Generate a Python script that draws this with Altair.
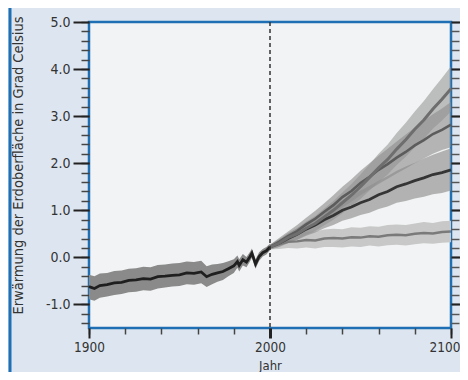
import altair as alt
import pandas as pd

# ---------------- data ----------------
hist_years = [1900, 1903, 1906, 1910, 1914, 1918, 1922, 1926, 1930, 1934, 1938, 1942,
              1946, 1950, 1954, 1958, 1962, 1965, 1968, 1971, 1974, 1977, 1980, 1982,
              1983, 1985, 1987, 1989, 1990, 1992, 1994, 1996, 1998, 2000]
hist_mean = [-0.62, -0.66, -0.60, -0.58, -0.54, -0.53, -0.49, -0.48, -0.45, -0.46, -0.41, -0.40,
             -0.38, -0.37, -0.33, -0.34, -0.31, -0.41, -0.36, -0.33, -0.30, -0.24, -0.18, -0.09,
             -0.17, -0.05, -0.10, 0.02, 0.09, -0.14, 0.02, 0.10, 0.14, 0.22]
hist_lo = [-0.89, -0.92, -0.86, -0.83, -0.80, -0.78, -0.74, -0.73, -0.70, -0.71, -0.66, -0.64,
           -0.62, -0.61, -0.57, -0.58, -0.55, -0.63, -0.57, -0.52, -0.48, -0.40, -0.33, -0.22,
           -0.30, -0.17, -0.21, -0.08, -0.01, -0.24, -0.07, 0.02, 0.06, 0.15]
hist_hi = [-0.37, -0.40, -0.34, -0.33, -0.29, -0.28, -0.24, -0.23, -0.20, -0.21, -0.16, -0.15,
           -0.13, -0.12, -0.09, -0.10, -0.07, -0.19, -0.15, -0.14, -0.12, -0.08, -0.04, 0.04,
           -0.04, 0.07, 0.01, 0.12, 0.19, -0.04, 0.11, 0.18, 0.22, 0.29]

proj_years = [2000, 2005, 2010, 2015, 2020, 2025, 2030, 2035, 2040, 2045, 2050,
              2055, 2060, 2065, 2070, 2075, 2080, 2085, 2090, 2095, 2100]

commit_mean = [0.22, 0.28, 0.33, 0.34, 0.37, 0.36, 0.40, 0.41, 0.40, 0.43, 0.42,
               0.45, 0.44, 0.47, 0.48, 0.47, 0.50, 0.52, 0.51, 0.54, 0.55]
commit_lo = [0.17, 0.18, 0.20, 0.19, 0.21, 0.19, 0.22, 0.22, 0.21, 0.23, 0.22,
             0.25, 0.23, 0.26, 0.27, 0.25, 0.28, 0.30, 0.29, 0.31, 0.32]
commit_hi = [0.27, 0.38, 0.46, 0.50, 0.55, 0.55, 0.59, 0.61, 0.60, 0.64, 0.63,
             0.66, 0.65, 0.69, 0.70, 0.69, 0.72, 0.75, 0.73, 0.77, 0.78]

b1_mean = [0.22, 0.30, 0.40, 0.49, 0.60, 0.69, 0.80, 0.89, 1.00, 1.07, 1.16,
           1.23, 1.33, 1.40, 1.50, 1.56, 1.63, 1.69, 1.76, 1.80, 1.86]
b1_lo = [0.17, 0.22, 0.30, 0.37, 0.46, 0.53, 0.62, 0.69, 0.78, 0.83, 0.90,
         0.95, 1.03, 1.08, 1.16, 1.20, 1.25, 1.29, 1.34, 1.37, 1.42]
b1_hi = [0.27, 0.38, 0.50, 0.62, 0.74, 0.86, 0.98, 1.10, 1.22, 1.32, 1.42,
         1.52, 1.63, 1.73, 1.84, 1.93, 2.01, 2.10, 2.18, 2.25, 2.32]

a1b_mean = [0.22, 0.33, 0.45, 0.56, 0.70, 0.82, 0.97, 1.11, 1.28, 1.41, 1.58,
            1.71, 1.86, 1.98, 2.12, 2.24, 2.38, 2.49, 2.62, 2.71, 2.82]
a1b_lo = [0.17, 0.25, 0.35, 0.45, 0.56, 0.67, 0.79, 0.92, 1.06, 1.18, 1.32,
          1.44, 1.56, 1.67, 1.78, 1.89, 2.00, 2.10, 2.20, 2.28, 2.34]
a1b_hi = [0.27, 0.41, 0.55, 0.69, 0.84, 0.99, 1.15, 1.32, 1.50, 1.66, 1.84,
          2.00, 2.16, 2.31, 2.46, 2.61, 2.76, 2.90, 3.04, 3.16, 3.30]

a2_mean = [0.22, 0.30, 0.42, 0.50, 0.62, 0.72, 0.86, 1.00, 1.16, 1.32, 1.50,
           1.70, 1.90, 2.08, 2.30, 2.50, 2.72, 2.92, 3.15, 3.36, 3.58]
a2_lo = [0.17, 0.22, 0.32, 0.38, 0.48, 0.56, 0.68, 0.80, 0.94, 1.08, 1.24,
         1.42, 1.60, 1.76, 1.96, 2.14, 2.34, 2.52, 2.73, 2.91, 3.10]
a2_hi = [0.27, 0.38, 0.52, 0.62, 0.76, 0.88, 1.04, 1.20, 1.38, 1.56, 1.76,
         1.98, 2.20, 2.40, 2.64, 2.86, 3.10, 3.32, 3.57, 3.81, 4.06]

x_major = [1900, 2000, 2100]
x_minor = [1900, 1920, 1940, 1960, 1980, 2000, 2020, 2040, 2060, 2080, 2100]
y_major = [-1.0, 0.0, 1.0, 2.0, 3.0, 4.0, 5.0]
y_minor = [-1.4, -1.2, -1.0, -0.8, -0.6, -0.4, -0.2, 0.0, 0.2, 0.4, 0.6, 0.8,
           1.0, 1.2, 1.4, 1.6, 1.8, 2.0, 2.2, 2.4, 2.6, 2.8, 3.0, 3.2, 3.4,
           3.6, 3.8, 4.0, 4.2, 4.4, 4.6, 4.8, 5.0]

x_title = "Jahr"
y_title = "Erwärmung der Erdoberfläche in Grad Celsius"

# ---------------- styling ----------------
FONT = "DejaVu Sans Condensed"
TXT = "#333333"
BLUE = "#1f6fb5"

xs = alt.Scale(domain=[1900, 2100], nice=False, zero=False)
ys = alt.Scale(domain=[-1.5, 5.0], nice=False, zero=False)

label_expr = "replace(format(datum.value, '.1f'), '\u2212', '-')"

ax_x_minor = alt.Axis(values=x_minor, labels=False, tickSize=6, tickWidth=1.5,
                      tickColor="#444444", domain=False, grid=False, title=None, orient="bottom")
ax_x_major = alt.Axis(values=x_major, format="d", tickSize=10,
                      tickWidth={"condition": {"test": "datum.value === 2000", "value": 3}, "value": 2},
                      tickColor="#222222", domain=False, grid=False, title=x_title,
                      labelFontSize=13.5, labelColor=TXT, labelFont=FONT, labelPadding=2,
                      labelAlign={"condition": {"test": "datum.value === 2100", "value": "right"}, "value": "center"},
                      labelOffset={"condition": {"test": "datum.value === 2100", "value": 9}, "value": 0},
                      titleFontSize=13, titleColor=TXT, titleFont=FONT, titleFontWeight="normal",
                      titleY=41, titleBaseline="alphabetic",
                      orient="bottom", labelFlush=False, labelOverlap=False)
ax_y_minor_l = alt.Axis(values=y_minor, labels=False, tickSize=8, tickWidth=1.5,
                        tickColor="#444444", domain=False, grid=False, title=None, orient="left")
ax_y_major_l = alt.Axis(values=y_major, labelExpr=label_expr, tickSize=16, tickWidth=2,
                        tickColor="#222222", domain=False, grid=False, title=y_title,
                        labelFontSize=14, labelColor=TXT, labelFont=FONT, labelPadding=3,
                        titleFontSize=14.5, titleColor=TXT, titleFont=FONT, titleFontWeight="normal",
                        titleAngle=270, titleX=-71, titleY=143, titleAlign="center",
                        titleBaseline="middle", orient="left")
ax_y_minor_r = alt.Axis(values=y_minor, labels=False, tickSize=8, tickWidth=1.5,
                        tickColor="#555555", domain=False, grid=False, title=None, orient="right")
ax_y_major_r = alt.Axis(values=y_major, labels=False, tickSize=15, tickWidth=2,
                        tickColor="#222222", domain=False, grid=False, title=None, orient="right")

scenarios = [
    # name, mean, lo, hi, band colour, band opacity, line colour, line width, x-axis, y-axis
    ("commit", commit_mean, commit_lo, commit_hi, "#c8c8c8", 1.0, "#7a7a7a", 2.5, ax_x_minor, ax_y_minor_l),
    ("B1", b1_mean, b1_lo, b1_hi, "#8f8f8f", 0.65, "#353535", 2.8, ax_x_major, ax_y_major_l),
    ("A1B", a1b_mean, a1b_lo, a1b_hi, "#8a8a8a", 0.6, "#5c5c5c", 2.6, None, ax_y_minor_r),
    ("A2", a2_mean, a2_lo, a2_hi, "#8f8f8f", 0.55, "#6e6e6e", 3.0, None, ax_y_major_r),
]

layers = []
line_layers = []
for name, mean, lo, hi, bcol, bop, lcol, lw, axx, axy in scenarios:
    df = pd.DataFrame({"year": proj_years, "mean": mean, "lo": lo, "hi": hi})
    base = alt.Chart(df)
    band = base.mark_area(color=bcol, opacity=bop, interpolate="linear").encode(
        x=alt.X("year:Q", scale=xs, axis=axx),
        y=alt.Y("lo:Q", scale=ys, axis=axy),
        y2="hi:Q",
    )
    layers.append(band)
    line = base.mark_line(color=lcol, strokeWidth=lw).encode(
        x=alt.X("year:Q", scale=xs, axis=None),
        y=alt.Y("mean:Q", scale=ys, axis=None),
    )
    line_layers.append(line)

hist_df = pd.DataFrame({"year": hist_years, "mean": hist_mean, "lo": hist_lo, "hi": hist_hi})
hist_band = alt.Chart(hist_df).mark_area(color="#8a8a8a", opacity=1.0).encode(
    x=alt.X("year:Q", scale=xs, axis=None),
    y=alt.Y("lo:Q", scale=ys, axis=None),
    y2="hi:Q",
)
hist_line = alt.Chart(hist_df).mark_line(color="#1f1f1f", strokeWidth=2.8).encode(
    x=alt.X("year:Q", scale=xs, axis=None),
    y=alt.Y("mean:Q", scale=ys, axis=None),
)

rule = alt.Chart(pd.DataFrame({"year": [2000]})).mark_rule(
    color="#333333", strokeWidth=1.5, strokeDash=[4, 3]
).encode(x=alt.X("year:Q", scale=xs, axis=None))

side_bar = alt.Chart(pd.DataFrame({"a": [0]})).mark_rule(color=BLUE, strokeWidth=3).encode(
    x=alt.value(-79), y=alt.value(-14), y2=alt.value(350)
)

chart = alt.layer(
    *layers, *line_layers, hist_band, hist_line, rule, side_bar
).resolve_axis(
    x="independent", y="independent"
).properties(
    width=362, height=306,
    padding={"left": 81, "top": 14, "right": 9, "bottom": 44},
    autosize=alt.AutoSizeParams(type="none"),
    background="#dde6f0",
).configure_view(
    fill="#f2f3f4", stroke=BLUE, strokeWidth=2.5
)

chart.save("out.html", embed_options={"renderer": "svg", "actions": False})
